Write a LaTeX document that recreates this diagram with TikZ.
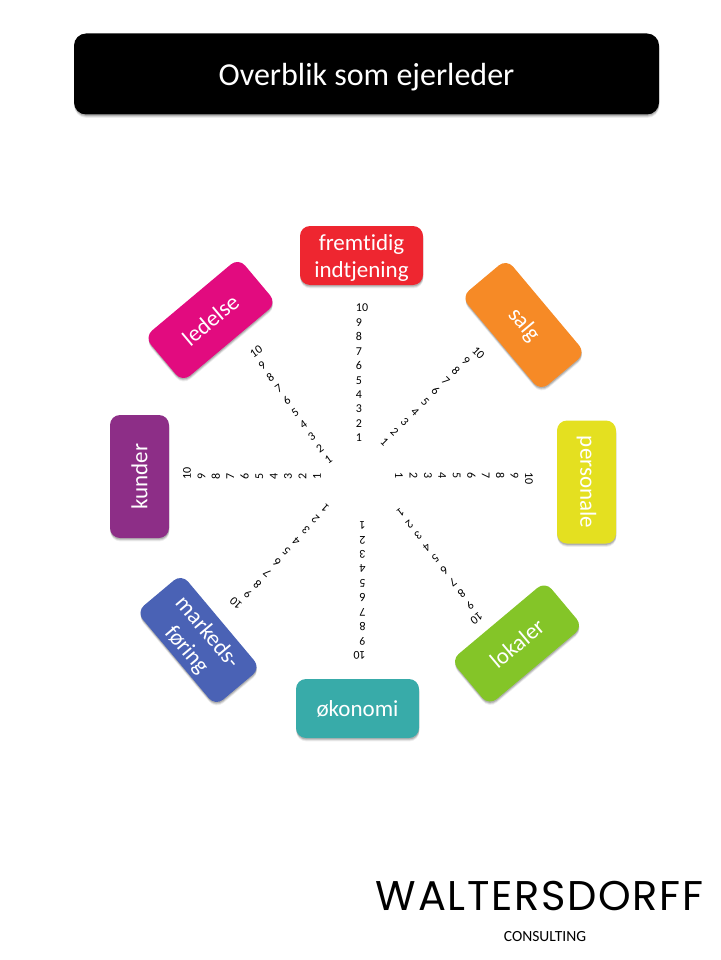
\documentclass[tikz,border=0pt]{standalone}
\usepackage{fontspec}
\setmainfont[Ligatures=NoCommon]{Carlito}
\newfontfamily\logofont[LetterSpace=4]{Poppins}
\usetikzlibrary{shadows}
\definecolor{cred}{HTML}{EE2630}
\definecolor{corange}{HTML}{F68A26}
\definecolor{cyellow}{HTML}{E4E020}
\definecolor{cgreen}{HTML}{84C528}
\definecolor{cteal}{HTML}{38ABA9}
\definecolor{cblue}{HTML}{4A62B5}
\definecolor{cpurple}{HTML}{8D2E87}
\definecolor{cmagenta}{HTML}{E20B7F}
\tikzset{
  softshadow/.style={
    drop shadow={shadow xshift=0.3pt,shadow yshift=-3.4pt,opacity=.07,fill=black},
    drop shadow={shadow xshift=0.3pt,shadow yshift=-2.4pt,opacity=.11,fill=black},
    drop shadow={shadow xshift=0.2pt,shadow yshift=-1.4pt,opacity=.16,fill=black}},
  topicbox/.style={rectangle,rounded corners=10pt,minimum width=123pt,minimum height=59pt,inner sep=0pt,
    text=white,align=center,softshadow,font=\fontsize{23}{27}\selectfont},
  titlebox/.style={rectangle,rounded corners=12pt,minimum width=585pt,minimum height=81pt,inner sep=0pt,
    fill=black,text=white,softshadow,font=\fontsize{32}{36}\selectfont},
  scale10/.style={inner sep=0pt,align=left,text=black,font=\fontsize{12}{14.44}\selectfont},
}
\newcommand{\scalerow}{10\\9\\8\\7\\6\\5\\4\\3\\2\\1}
\begin{document}
\begin{tikzpicture}[x=1pt,y=-1pt]
\useasboundingbox (0,0) rectangle (720,960);
\node[titlebox] (title) at (366.5,74) {\rule{0pt}{29pt}Overblik som ejerleder};
\node[topicbox,fill=cred] (fremtidig) at (361.5,255.5) {\rule{0pt}{21pt}fremtidig\\indtjening};
\node[topicbox,fill=corange,rotate=-50] (salg) at (523.5,325) {salg};
\node[topicbox,fill=cyellow,rotate=-90] (personale) at (586.5,482) {personale};
\node[topicbox,fill=cgreen,rotate=40] (lokaler) at (517,643.5) {lokaler};
\node[topicbox,fill=cteal] (okonomi) at (357.5,708.5) {økonomi};
\node[topicbox,fill=cblue,rotate=-50] (markeds) at (198.5,640) {\rule{0pt}{21pt}markeds-\\føring};
\node[topicbox,fill=cpurple,rotate=90] (kunder) at (139.5,476.5) {kunder};
\node[topicbox,fill=cmagenta,rotate=40] (ledelse) at (210.5,320) {ledelse};
\node[scale10] (sn) at (362,373) {\scalerow};
\node[scale10,rotate=-45] (sne) at (432.5,398.5) {\scalerow};
\node[scale10,rotate=-90] (se) at (464,478.5) {\scalerow};
\node[scale10,rotate=-143] (sse) at (437.5,566.5) {\scalerow};
\node[scale10,rotate=180] (ss) at (359.5,590.5) {\scalerow};
\node[scale10,rotate=138] (ssw) at (279.5,555) {\scalerow};
\node[scale10,rotate=90] (sw) at (252,473.5) {\scalerow};
\node[scale10,rotate=35] (snw) at (293.5,405) {\scalerow};
\node[inner sep=0pt] (logo) at (539.5,896) {\resizebox{327pt}{!}{\logofont WALTERSDORFF}};
\node[inner sep=0pt,font=\fontsize{15.5}{18}\selectfont] (consulting) at (545,937) {CONSULTING};
\end{tikzpicture}
\end{document}
